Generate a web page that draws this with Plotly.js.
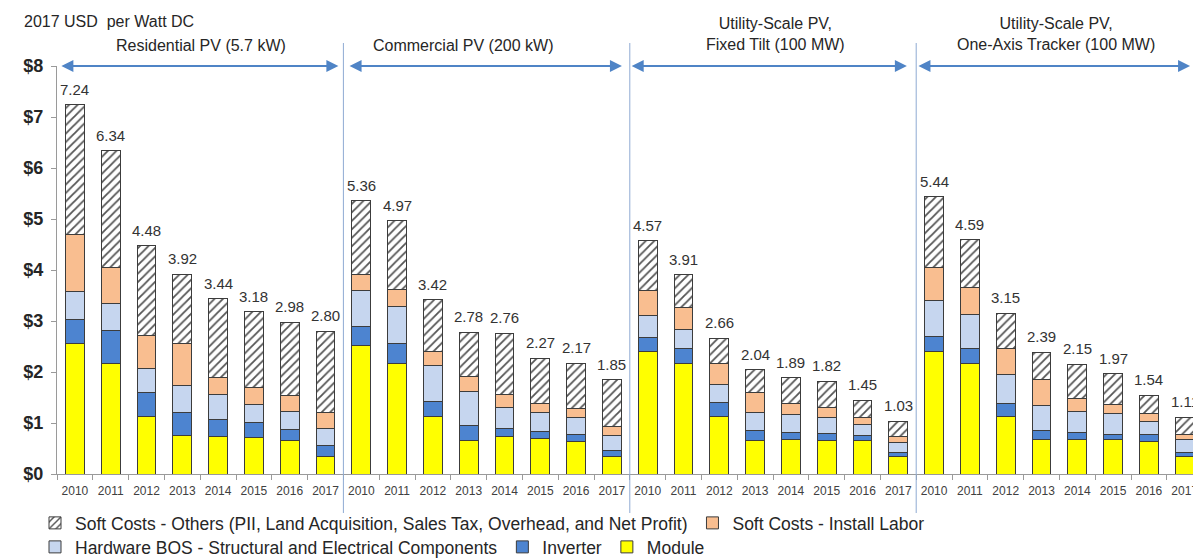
<!DOCTYPE html>
<html>
<head>
<meta charset="utf-8">
<script src="https://cdn.plot.ly/plotly-3.0.1.min.js"></script>
<style>html,body{margin:0;padding:0;background:#fff;}#chart{width:1193px;height:558px;}</style>
</head>
<body>
<div id="chart"></div>
<script>
// ---- data (2017 USD per Watt DC) ----
var years = ['2010','2011','2012','2013','2014','2015','2016','2017'];
var segments = ['Residential PV (5.7 kW)', 'Commercial PV (200 kW)',
                'Utility-Scale PV,<br>Fixed Tilt (100 MW)', 'Utility-Scale PV,<br>One-Axis Tracker (100 MW)'];
var seriesNames = ['Module', 'Inverter', 'Hardware BOS - Structural and Electrical Components',
                   'Soft Costs - Install Labor',
                   'Soft Costs - Others (PII, Land Acquisition, Sales Tax, Overhead, and Net Profit)'];

// each array: residential 2010-2017, commercial 2010-2017, fixed tilt 2010-2017, tracker 2010-2017
var moduleVals   = [2.56,2.16,1.12,0.76,0.73,0.71,0.65,0.34,  2.52,2.16,1.12,0.66,0.73,0.70,0.64,0.34,
                    2.41,2.16,1.12,0.66,0.68,0.66,0.65,0.34,  2.41,2.16,1.12,0.67,0.68,0.67,0.64,0.35];
var inverterVals = [0.46,0.66,0.47,0.44,0.33,0.30,0.23,0.21,  0.38,0.40,0.31,0.29,0.17,0.14,0.14,0.12,
                    0.27,0.31,0.28,0.20,0.13,0.13,0.11,0.08,  0.28,0.30,0.27,0.19,0.13,0.11,0.13,0.08];
var bosVals      = [0.56,0.52,0.48,0.53,0.50,0.36,0.35,0.35,  0.70,0.73,0.69,0.67,0.41,0.37,0.33,0.29,
                    0.42,0.37,0.35,0.34,0.36,0.32,0.21,0.19,  0.72,0.66,0.56,0.49,0.42,0.40,0.26,0.24];
var laborVals    = [1.12,0.71,0.64,0.83,0.34,0.33,0.30,0.30,  0.31,0.33,0.29,0.30,0.24,0.18,0.18,0.18,
                    0.49,0.42,0.41,0.40,0.22,0.19,0.14,0.12,  0.64,0.53,0.51,0.50,0.25,0.19,0.15,0.11];
var othersVals   = [2.54,2.29,1.77,1.36,1.54,1.48,1.45,1.60,  1.45,1.35,1.01,0.86,1.21,0.88,0.88,0.92,
                    0.98,0.65,0.50,0.44,0.50,0.52,0.34,0.30,  1.39,0.94,0.69,0.54,0.67,0.60,0.36,0.33];
var totalLabels  = [7.24,6.34,4.48,3.92,3.44,3.18,2.98,2.80,  5.36,4.97,3.42,2.78,2.76,2.27,2.17,1.85,
                    4.57,3.91,2.66,2.04,1.89,1.82,1.45,1.03,  5.44,4.59,3.15,2.39,2.15,1.97,1.54,1.11];
var yTicks = [0,1,2,3,4,5,6,7,8];
var yTickText = ['$0','$1','$2','$3','$4','$5','$6','$7','$8'];

// ---- build ----
var xs = [], tickText = [];
for (var s = 0; s < segments.length; s++) {
  for (var j = 0; j < years.length; j++) { xs.push(s * years.length + j); tickText.push(years[j]); }
}
var FONT = 'Liberation Sans, Arial, sans-serif';
var outline = {color: '#3c3c3c', width: 1};

function barTrace(name, vals, color, legend, pattern) {
  var m = {color: color, line: outline};
  if (pattern) m.pattern = pattern;
  return {type: 'bar', name: name, x: xs, y: vals, marker: m, legend: legend, hoverinfo: 'y+name'};
}
var traces = [
  barTrace(seriesNames[0], moduleVals, '#FFFF00', 'legend2'),
  barTrace(seriesNames[1], inverterVals, '#4D84D0', 'legend2'),
  barTrace(seriesNames[2], bosVals, '#C6D6EF', 'legend2'),
  barTrace(seriesNames[3], laborVals, '#F9BE90', 'legend'),
  barTrace(seriesNames[4], othersVals, '#ffffff', 'legend',
           {shape: '/', fgcolor: '#555555', bgcolor: '#ffffff', size: 6, solidity: 0.3})
];

var L = 57, W = 1136, H = 558, FW = 1193;
var pxPerCat = 35.8;
var xMax = (FW - L) / pxPerCat - 0.5;
function px2paper(px) { return (px - L) / W; }

var annotations = [
  {text: '2017 USD  per Watt DC', xref: 'paper', yref: 'paper', x: px2paper(22), y: (474-22)/408,
   xanchor: 'left', yanchor: 'middle', showarrow: false, font: {family: FONT, size: 16, color: '#262626'}}
];
// total labels above each bar
for (var i = 0; i < xs.length; i++) {
  annotations.push({text: totalLabels[i].toFixed(2), xref: 'x', yref: 'y', x: xs[i], y: totalLabels[i],
    xanchor: 'center', yanchor: 'bottom', yshift: 5, showarrow: false,
    font: {family: FONT, size: 15, color: '#333333'}});
}
var titleCenters = [201, 463, 775, 1056];
var titleY = [46, 46, 34, 34];
var arrowSpans = [[-0.42, 7.36], [7.63, 15.28], [15.51, 23.24], [23.52, 31.15]];
for (var k = 0; k < segments.length; k++) {
  annotations.push({text: segments[k], xref: 'paper', yref: 'paper', x: px2paper(titleCenters[k]),
    y: (474 - titleY[k]) / 408, xanchor: 'center', yanchor: 'middle', showarrow: false,
    font: {family: FONT, size: 16, color: '#262626'}, align: 'center'});
  annotations.push({text: '', xref: 'x', yref: 'y', axref: 'x', ayref: 'y',
    x: arrowSpans[k][1], y: 8, ax: arrowSpans[k][0], ay: 8, showarrow: true,
    arrowhead: 2, arrowside: 'end+start', arrowsize: 1.2, arrowwidth: 2, arrowcolor: '#4F84C6', standoff: 0, startstandoff: 0});
}
var shapes = [];
for (var b = 1; b < segments.length; b++) {
  shapes.push({type: 'line', xref: 'x', yref: 'paper', x0: b * years.length - 0.5, x1: b * years.length - 0.5,
    y0: (474 - 513) / 408, y1: (474 - 43) / 408, line: {color: '#8FAAD3', width: 1}});
}

var legendCommon = {orientation: 'h', xref: 'container', yref: 'container', x: 35 / FW, xanchor: 'left',
  yanchor: 'middle', traceorder: 'reversed', font: {family: FONT, size: 17.5, color: '#262626'},
  bgcolor: 'rgba(0,0,0,0)', itemclick: false, itemdoubleclick: false, tracegroupgap: 0};

var layout = {
  width: FW, height: H,
  margin: {l: L, r: 0, t: 66, b: 84, pad: 0},
  paper_bgcolor: '#ffffff', plot_bgcolor: '#ffffff',
  font: {family: FONT, color: '#262626'},
  barmode: 'stack', bargap: 0.48,
  xaxis: {range: [-0.5, xMax], tickmode: 'array', tickvals: xs, ticktext: tickText,
    ticks: '', showgrid: false, zeroline: false, showline: true, linecolor: '#9a9a9a', linewidth: 1,
    tickfont: {family: FONT, size: 12, color: '#404040'}, ticklabelstandoff: 6, ticklabeloverflow: 'allow',
    minor: {tickmode: 'linear', tick0: -0.5, dtick: 1, ticks: 'outside', ticklen: 5, tickcolor: '#9a9a9a', showgrid: false},
    fixedrange: true, automargin: false},
  yaxis: {range: [0, 8], tickmode: 'array', tickvals: yTicks, ticktext: yTickText,
    ticks: 'outside', ticklen: 5, tickcolor: '#9a9a9a', showgrid: false, zeroline: false,
    showline: true, linecolor: '#9a9a9a', linewidth: 1, ticklabelstandoff: 4,
    tickfont: {family: FONT, size: 18, color: '#262626', weight: 'bold'}, fixedrange: true, automargin: false},
  legend: Object.assign({}, legendCommon, {y: 1 - 523 / H}),
  legend2: Object.assign({}, legendCommon, {y: 1 - 547 / H}),
  annotations: annotations,
  shapes: shapes,
  showlegend: true
};
Plotly.newPlot('chart', traces, layout, {displayModeBar: false, staticPlot: true});
</script>
</body>
</html>
